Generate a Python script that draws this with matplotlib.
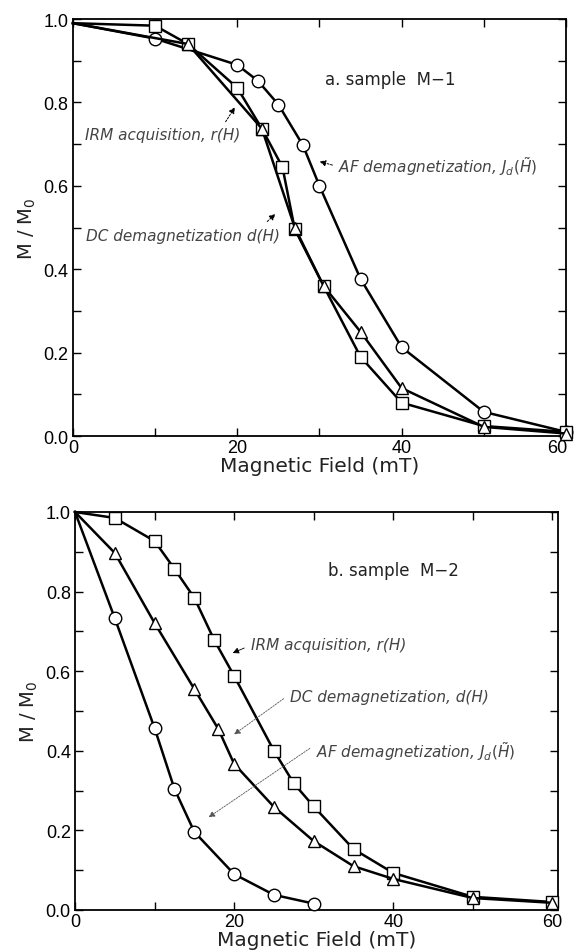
import matplotlib
matplotlib.use("Agg")
import matplotlib.pyplot as plt
import matplotlib.transforms as mtransforms
from matplotlib.ticker import MultipleLocator

plt.rcParams['font.family'] = ['Liberation Sans', 'DejaVu Sans']
plt.rcParams['mathtext.fontset'] = 'dejavusans'

# ---- Panel a: sample M-1 ----
a_irm_x = [0, 10, 14, 20, 23, 25.5, 27, 30.5, 35, 40, 50, 60]
a_irm_y = [0.99, 0.984, 0.94, 0.835, 0.737, 0.645, 0.496, 0.36, 0.19, 0.08, 0.024, 0.01]
a_dc_x = [0, 14, 23, 27, 30.5, 35, 40, 50, 60]
a_dc_y = [0.99, 0.94, 0.737, 0.50, 0.36, 0.25, 0.115, 0.022, 0.006]
a_af_x = [0, 10, 20, 22.5, 25, 28, 30, 35, 40, 50, 60]
a_af_y = [0.99, 0.953, 0.89, 0.852, 0.795, 0.697, 0.60, 0.377, 0.213, 0.058, 0.01]

# ---- Panel b: sample M-2 ----
b_irm_x = [0, 5, 10, 12.5, 15, 17.5, 20, 25, 27.5, 30, 35, 40, 50, 60]
b_irm_y = [1.0, 0.985, 0.927, 0.857, 0.784, 0.678, 0.588, 0.40, 0.318, 0.26, 0.153, 0.093, 0.033, 0.02]
b_dc_x = [0, 5, 10, 15, 18, 20, 25, 30, 35, 40, 50, 60]
b_dc_y = [1.0, 0.897, 0.721, 0.555, 0.455, 0.367, 0.259, 0.173, 0.11, 0.078, 0.03, 0.018]
b_af_x = [0, 5, 10, 12.5, 15, 20, 25, 30]
b_af_y = [1.0, 0.733, 0.457, 0.304, 0.196, 0.09, 0.038, 0.016]

x_ticks = [0, 20, 40, 60]
y_ticks = [0.0, 0.2, 0.4, 0.6, 0.8, 1.0]

fig = plt.figure(figsize=(5.74, 9.53), dpi=100)
ax1 = fig.add_axes([0.127, 0.5414, 0.859, 0.4376])
ax2 = fig.add_axes([0.1307, 0.0441, 0.8414, 0.4176])

ann_color = '#444444'
wide = ['DejaVu Sans']
mk = dict(markerfacecolor='white', markeredgecolor='black', markeredgewidth=1.0, color='black', lw=1.8)


def style(ax, xmax):
    ax.set_xlim(0, xmax)
    ax.set_ylim(0, 1.0)
    ax.set_xticks(x_ticks)
    ax.set_yticks(y_ticks)
    ax.set_yticklabels([f'{v:.1f}' for v in y_ticks])
    ax.xaxis.set_minor_locator(MultipleLocator(10))
    ax.yaxis.set_minor_locator(MultipleLocator(0.1))
    ax.tick_params(which='both', direction='in', top=True, right=True, labelsize=13, pad=3)
    ax.tick_params(axis='x', pad=2)
    ax.tick_params(which='major', length=6, width=1)
    ax.tick_params(which='minor', length=6, width=1)
    for s in ax.spines.values():
        s.set_linewidth(1.3)
    ax.set_xlabel('Magnetic Field (mT)', fontsize=14.5, labelpad=0, family=wide, color='#222222')
    ax.set_ylabel(r'M / M$_0$', fontsize=14, labelpad=4, family=wide, color='#222222')


def series(ax, xs, ys, marker, ms):
    ax.plot(xs, ys, marker=marker, markersize=ms, markevery=list(range(1, len(xs))), clip_on=False, zorder=3, **mk)


def note(ax, x, y, s):
    ax.text(x, y, s, fontsize=11, style='italic', color=ann_color, va='center', family=wide)


# Panel a
series(ax1, a_af_x, a_af_y, 'o', 9)
series(ax1, a_irm_x, a_irm_y, 's', 8.5)
series(ax1, a_dc_x, a_dc_y, '^', 8)
style(ax1, 60)
# shift the last tick label slightly left so it stays inside the figure
last = ax1.get_xticklabels()[-1]
last.set_transform(last.get_transform() + mtransforms.ScaledTranslation(-6 / 72, 0, fig.dpi_scale_trans))

ax1.text(30.7, 0.856, 'a. sample  M\u22121', fontsize=12, color='#222222', va='center', family=wide)
arrow = dict(arrowstyle='-|>', lw=0.7, ls=(0, (2, 1.5)), color='black', mutation_scale=9)
note(ax1, 1.5, 0.722, 'IRM acquisition, r(H)')
ax1.annotate('', xy=(19.9, 0.794), xytext=(18.4, 0.748), arrowprops=arrow)
note(ax1, 1.6, 0.48, 'DC demagnetization d(H)')
ax1.annotate('', xy=(24.9, 0.537), xytext=(23.4, 0.510), arrowprops=arrow)
note(ax1, 32.3, 0.648, r'AF demagnetization, $J_d(\tilde{H})$')
ax1.annotate('', xy=(29.7, 0.66), xytext=(31.9, 0.648), arrowprops=arrow)

# Panel b
series(ax2, b_af_x, b_af_y, 'o', 9)
series(ax2, b_irm_x, b_irm_y, 's', 8.5)
series(ax2, b_dc_x, b_dc_y, '^', 8)
style(ax2, 60.7)
ax2.text(31.8, 0.854, 'b. sample  M\u22122', fontsize=12, color='#222222', va='center', family=wide)
note(ax2, 22.1, 0.666, 'IRM acquisition, r(H)')
ax2.annotate('', xy=(19.5, 0.643), xytext=(21.6, 0.661),
             arrowprops=dict(arrowstyle='-|>', lw=0.6, color='black', mutation_scale=9))
arrow2 = dict(arrowstyle='-|>', lw=0.6, ls=(0, (2, 1.5)), color='#555555', mutation_scale=9)
note(ax2, 27.0, 0.537, 'DC demagnetization, d(H)')
ax2.annotate('', xy=(19.7, 0.437), xytext=(26.5, 0.535), arrowprops=arrow2)
note(ax2, 30.3, 0.40, r'AF demagnetization, $J_d(\tilde{H})$')
ax2.annotate('', xy=(16.5, 0.229), xytext=(29.8, 0.41), arrowprops=arrow2)

fig.savefig('out.png', dpi=100)
